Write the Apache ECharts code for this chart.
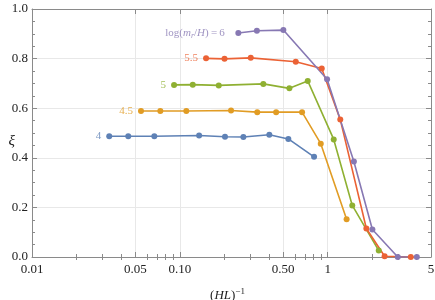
<!DOCTYPE html>
<html><head><meta charset="utf-8">
<script src="https://cdn.jsdelivr.net/npm/echarts@6/dist/echarts.min.js"></script>
<style>html,body{margin:0;padding:0;background:#fff}#c{width:435px;height:300px}</style>
</head><body><div id="c"></div>
<script>
// ---- data ----
const xMajorTicks = [0.01, 0.05, 0.1, 0.5, 1, 5];
const xTickLabels = ['0.01', '0.05', '0.10', '0.50', '1', '5'];
const xMinorTicks = [0.02,0.03,0.04,0.06,0.07,0.08,0.09,0.2,0.3,0.4,0.6,0.7,0.8,0.9,2,3,4];

const blueX   = [0.0333, 0.0448, 0.0672, 0.135, 0.202, 0.269, 0.403, 0.542, 0.809];
const blueY   = [0.487, 0.487, 0.487, 0.490, 0.485, 0.484, 0.493, 0.476, 0.404];
const orangeX = [0.0546, 0.0738, 0.1106, 0.222, 0.334, 0.448, 0.671, 0.898, 1.343];
const orangeY = [0.589, 0.589, 0.589, 0.591, 0.584, 0.584, 0.584, 0.457, 0.152];
const greenX  = [0.0914, 0.1223, 0.1833, 0.367, 0.551, 0.733, 1.099, 1.467, 2.216];
const greenY  = [0.694, 0.695, 0.692, 0.698, 0.680, 0.710, 0.474, 0.208, 0.026];
const redX    = [0.1504, 0.2006, 0.3018, 0.6085, 0.912, 1.217, 1.827, 2.427, 3.65];
const redY    = [0.801, 0.799, 0.803, 0.787, 0.760, 0.554, 0.115, 0.003, 0.0];
const purpleX = [0.2487, 0.332, 0.5016, 0.991, 1.504, 2.007, 2.98, 4.01];
const purpleY = [0.903, 0.912, 0.915, 0.717, 0.385, 0.111, 0.0, 0.0];

const seriesLabels = ['4', '4.5', '5', '5.5', '{a|log(}{i|m}{s|r}{a|/}{i|H}{a|)\u2009=\u20096\u2002}'];
const colors = ['#5E81B5', '#E19C24', '#8FB032', '#EB6235', '#8778B3'];
// ----------------

const FONT = "'Liberation Serif', 'DejaVu Serif', serif";
const frameColor = '#8a8a8a';

function mkSeries(xs, ys, label, color) {
  const data = xs.map((x, i) => {
    if (i === 0) {
      return { value: [x, ys[i]], label: {
        show: true, position: 'left', distance: 5,
        formatter: label, color: color, opacity: 0.8,
        fontFamily: FONT, fontSize: 11,
        rich: {
          a: { fontFamily: FONT, fontSize: 11, color: color, opacity: 0.8 },
          i: { fontFamily: FONT, fontSize: 11, fontStyle: 'italic', color: color, opacity: 0.8 },
          s: { fontFamily: FONT, fontSize: 8, fontStyle: 'italic', color: color, opacity: 0.8, verticalAlign: 'bottom', padding: [6, 0, 0, 0] }
        }
      } };
    }
    return [x, ys[i]];
  });
  return {
    type: 'line', data, xAxisIndex: 0, yAxisIndex: 0,
    symbol: 'circle', symbolSize: 6, showSymbol: true,
    lineStyle: { color, width: 1.6 }, itemStyle: { color },
    emphasis: { disabled: true }, animation: false, z: 3
  };
}

const baseX = { type: 'log', logBase: 10, min: 0.01, max: 5, gridIndex: 0 };
const xAxes = [
  Object.assign({}, baseX, {
    position: 'bottom',
    axisLine: { show: true, onZero: false, lineStyle: { color: frameColor, width: 1 } },
    axisTick: { show: true, inside: true, length: 5, customValues: xMajorTicks, lineStyle: { color: frameColor } },
    axisLabel: { show: true, customValues: xMajorTicks, margin: 6, color: '#222', fontFamily: FONT, fontSize: 13,
      formatter: v => { const k = xMajorTicks.findIndex(t => Math.abs(t - v) / t < 1e-6); return k >= 0 ? xTickLabels[k] : ''; } },
    splitLine: { show: true, lineStyle: { color: '#e8e8e8', width: 1 } },
    minorTick: { show: false }, minorSplitLine: { show: false },
    name: '{a|(}{i|HL}{a|)}{s|\u22121}', nameLocation: 'middle', nameGap: 30,
    nameTextStyle: { fontFamily: FONT, fontSize: 13, color: '#222', padding: [0, 8, 0, 0],
      rich: { a: { fontFamily: FONT, fontSize: 13, color: '#222' },
              i: { fontFamily: FONT, fontSize: 13, fontStyle: 'italic', color: '#222' },
              s: { fontFamily: FONT, fontSize: 9, color: '#222', verticalAlign: 'top', padding: [0, 0, 8, 0] } } }
  }),
  Object.assign({}, baseX, {
    position: 'bottom',
    axisLine: { show: false }, axisLabel: { show: false }, splitLine: { show: false },
    axisTick: { show: true, inside: true, length: 3, customValues: xMinorTicks, lineStyle: { color: frameColor } }
  }),
  Object.assign({}, baseX, {
    position: 'top',
    axisLine: { show: true, onZero: false, lineStyle: { color: frameColor, width: 1 } },
    axisLabel: { show: false }, splitLine: { show: false },
    axisTick: { show: true, inside: true, length: 5, customValues: xMajorTicks, lineStyle: { color: frameColor } }
  }),
  Object.assign({}, baseX, {
    position: 'top',
    axisLine: { show: false }, axisLabel: { show: false }, splitLine: { show: false },
    axisTick: { show: true, inside: true, length: 3, customValues: xMinorTicks, lineStyle: { color: frameColor } }
  })
];

const baseY = { type: 'value', min: 0, max: 1, interval: 0.2, gridIndex: 0 };
const yAxes = [
  Object.assign({}, baseY, {
    position: 'left',
    axisLine: { show: true, onZero: false, lineStyle: { color: frameColor, width: 1 } },
    axisTick: { show: true, inside: true, length: 5, lineStyle: { color: frameColor } },
    minorTick: { show: true, splitNumber: 4, length: 3, lineStyle: { color: frameColor } },
    axisLabel: { show: true, margin: 4, color: '#222', fontFamily: FONT, fontSize: 13, formatter: v => v.toFixed(1) },
    splitLine: { show: true, lineStyle: { color: '#e8e8e8', width: 1 } },
    name: '\n\u03BE', nameLocation: 'middle', nameGap: 17, nameRotate: 0, nameMoveOverlap: false,
    nameTextStyle: { fontFamily: FONT, fontSize: 15, lineHeight: 16, fontStyle: 'italic', color: '#222' }
  }),
  Object.assign({}, baseY, {
    position: 'right',
    axisLine: { show: true, onZero: false, lineStyle: { color: frameColor, width: 1 } },
    axisTick: { show: true, inside: true, length: 5, lineStyle: { color: frameColor } },
    minorTick: { show: true, splitNumber: 4, length: 3, lineStyle: { color: frameColor } },
    axisLabel: { show: false }, splitLine: { show: false }
  })
];

const chart = echarts.init(document.getElementById('c'), null, { renderer: 'canvas' });
chart.setOption({
  animation: false,
  backgroundColor: '#fff',
  grid: { left: 32, right: 4, top: 9, bottom: 43, containLabel: false, outerBoundsMode: 'none' },
  xAxis: xAxes,
  yAxis: yAxes,
  series: [
    mkSeries(blueX, blueY, seriesLabels[0], colors[0]),
    mkSeries(orangeX, orangeY, seriesLabels[1], colors[1]),
    mkSeries(greenX, greenY, seriesLabels[2], colors[2]),
    mkSeries(redX, redY, seriesLabels[3], colors[3]),
    mkSeries(purpleX, purpleY, seriesLabels[4], colors[4])
  ]
});
</script>
</body></html>
